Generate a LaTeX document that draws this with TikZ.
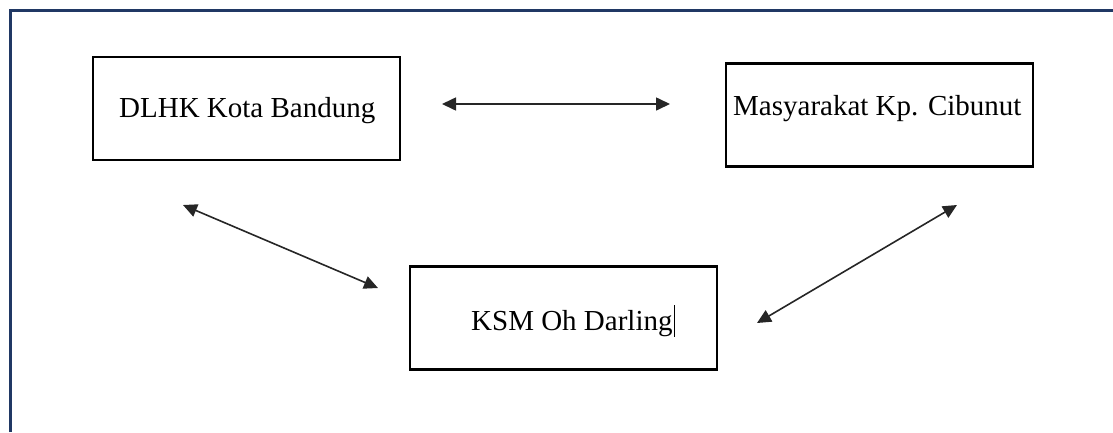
\documentclass[tikz,border=0pt]{standalone}
\usepackage{fontspec}
\setmainfont{Liberation Serif}
\usetikzlibrary{arrows.meta, positioning}
\definecolor{framenavy}{HTML}{203864}
\begin{document}
\begin{tikzpicture}[
        x=1pt, y=-1pt,
        >={Triangle[length=14pt,width=13pt]},
        box/.style={draw, line width=2.2pt, minimum width=307pt, minimum height=103pt, inner sep=0pt},
        lbl/.style={font=\fontsize{29}{34}\selectfont, inner sep=0pt, anchor=base west},
        link/.style={<->, line width=1.6pt, draw=black!85}
    ]
    \useasboundingbox (0,0) rectangle (1113,432);
    \draw[framenavy, line width=3pt] (10,432) -- (10,10) -- (1113,10);
    % boxes
    \node[box] (dlhk) at (246.5,108.5) {};
    \node[box] (masy) at (879.5,115) {};
    \node[box] (ksm) at (563.5,318) {};
    \node[lbl] (dlhkT) at (119,117) {DLHK Kota Bandung};
    \node[lbl] (masyT) at (733,115) {Masyarakat Kp. Cibunut};
    \node[lbl] (ksmT) at (471,330) {KSM Oh Darling};
    \draw[line width=1pt] (674,305) -- (674,337);
    % arrow ends
    \coordinate (t1) at (442,104);
    \coordinate (t2) at (670,104);
    \coordinate (l1) at (183,205);
    \coordinate (l2) at (378,288);
    \coordinate (r1) at (957,205);
    \coordinate (r2) at (757,323);
    \draw[link] (t1) -- (t2);
    \draw[link] (l1) -- (l2);
    \draw[link] (r1) -- (r2);
\end{tikzpicture}
\end{document}
